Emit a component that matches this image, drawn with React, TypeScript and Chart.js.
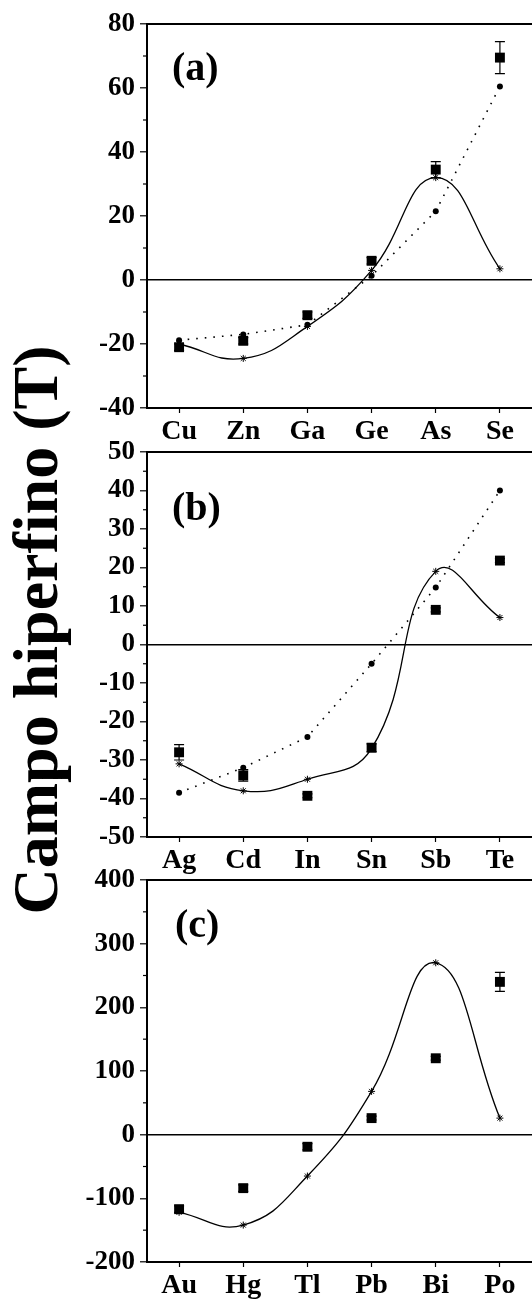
import React, { useEffect, useRef } from "react";
import { Chart, registerables } from "chart.js";

Chart.register(...registerables);

// ---------- data ----------
const categoriesA = ["Cu", "Zn", "Ga", "Ge", "As", "Se"];
const squaresA = [-21, -19, -11, 6, 34.5, 69.5];
const squareErrA = [1, 1, 1, 1, 2.5, 5];
const circlesA = [-18.8, -17, -14, 1.3, 21.5, 60.5];
const starsA = [-20, -24.5, -14.5, 3, 32, 3.5];

const categoriesB = ["Ag", "Cd", "In", "Sn", "Sb", "Te"];
const squaresB = [-28, -34, -39.3, -26.8, 9, 21.8];
const squareErrB = [2, 1.5, 0.5, 1, 0.5, 0.5];
const circlesB = [-38.5, -32, -24, -5, 14.8, 40];
const starsB = [-31, -38, -35, -27, 19, 7];

const categoriesC = ["Au", "Hg", "Tl", "Pb", "Bi", "Po"];
const squaresC = [-117, -84, -19, 26, 120, 240];
const squareErrC = [5, 5, 5, 3, 3, 15];
const starsC = [-122, -142, -65, 68, 270, 26];

const FONT = "'Liberation Serif', 'Times New Roman', serif";

const decor = {
  id: "decor",
  beforeDatasetsDraw(chart: any, _args: any, opts: any) {
    const ctx = chart.ctx;
    const y = chart.scales.y;
    const meta = chart.getDatasetMeta(0);
    const vals = chart.data.datasets[0].data as number[];
    const errs: number[] = opts.errors || [];
    ctx.save();
    ctx.strokeStyle = "#000";
    ctx.lineWidth = 1.2;
    meta.data.forEach((pt: any, i: number) => {
      const e = errs[i];
      if (!e) return;
      const y1 = y.getPixelForValue(vals[i] + e);
      const y2 = y.getPixelForValue(vals[i] - e);
      ctx.beginPath();
      ctx.moveTo(pt.x, y1);
      ctx.lineTo(pt.x, y2);
      ctx.moveTo(pt.x - 5, y1);
      ctx.lineTo(pt.x + 5, y1);
      ctx.moveTo(pt.x - 5, y2);
      ctx.lineTo(pt.x + 5, y2);
      ctx.stroke();
    });
    ctx.restore();
  },
  afterDraw(chart: any, _args: any, opts: any) {
    const ctx = chart.ctx;
    const area = chart.chartArea;
    const y = chart.scales.y;
    ctx.save();
    ctx.strokeStyle = "#000";
    ctx.lineWidth = 2;
    ctx.beginPath();
    ctx.moveTo(area.left, area.top);
    ctx.lineTo(chart.width, area.top);
    ctx.stroke();
    // minor ticks
    ctx.lineWidth = 1.2;
    const step = opts.minorStep;
    for (let v = y.min + step; v < y.max; v += 2 * step) {
      const py = y.getPixelForValue(v);
      ctx.beginPath();
      ctx.moveTo(area.left - 4, py);
      ctx.lineTo(area.left, py);
      ctx.stroke();
    }
    // panel label
    ctx.fillStyle = "#000";
    ctx.font = `bold 40px ${FONT}`;
    ctx.textBaseline = "alphabetic";
    ctx.textAlign = "left";
    ctx.fillText(opts.label, opts.labelX, opts.labelY);
    ctx.restore();
  },
};

type PanelProps = {
  categories: string[];
  squares: number[];
  errors: number[];
  circles?: number[];
  stars: number[];
  yMin: number;
  yMax: number;
  yStep: number;
  top: number;
  height: number;
  padTop: number;
  xHeight: number;
  label: string;
  labelX: number;
  labelY: number;
};

function Panel(p: PanelProps) {
  const ref = useRef<HTMLCanvasElement | null>(null);
  useEffect(() => {
    if (!ref.current) return;
    const datasets: any[] = [
      {
        data: p.squares,
        showLine: false,
        pointStyle: "rect",
        pointRadius: 7,
        pointBackgroundColor: "#000",
        pointBorderColor: "#000",
        pointBorderWidth: 0,
      },
      {
        data: p.stars,
        borderColor: "#000",
        borderWidth: 1.3,
        tension: 0.45,
        pointStyle: "star",
        pointRadius: 3.5,
        pointBorderColor: "#000",
        pointBorderWidth: 1,
        pointBackgroundColor: "#000",
      },
    ];
    if (p.circles) {
      datasets.push({
        data: p.circles,
        borderColor: "#000",
        borderWidth: 1.6,
        borderDash: [1.6, 7],
        tension: 0,
        pointStyle: "circle",
        pointRadius: 3,
        pointBackgroundColor: "#000",
        pointBorderColor: "#000",
        pointBorderWidth: 0,
      });
    }
    const chart = new Chart(ref.current, {
      type: "line",
      data: { labels: p.categories, datasets },
      plugins: [decor as any],
      options: {
        animation: false,
        responsive: false,
        devicePixelRatio: 1,
        layout: {
          autoPadding: false,
          padding: { top: p.padTop, left: 0, right: 0, bottom: 0 },
        },
        plugins: {
          legend: { display: false },
          tooltip: { enabled: false },
          decor: {
            errors: p.errors,
            minorStep: p.yStep / 2,
            label: p.label,
            labelX: p.labelX,
            labelY: p.labelY,
          },
        } as any,
        scales: {
          x: {
            type: "category",
            offset: true,
            afterFit: (s: any) => {
              s.height = p.xHeight;
              s.paddingLeft = 0;
              s.paddingRight = 0;
            },
            border: { display: true, color: "#000", width: 2 },
            grid: {
              drawOnChartArea: false,
              color: "#000",
              tickColor: "#000",
              tickLength: 5,
              tickWidth: 1.2,
            },
            ticks: {
              color: "#000",
              font: { family: FONT, weight: "bold", size: 28 },
              padding: 2,
              maxRotation: 0,
              autoSkip: false,
            },
          },
          y: {
            type: "linear",
            min: p.yMin,
            max: p.yMax,
            afterFit: (s: any) => {
              s.width = 147;
            },
            border: { display: true, color: "#000", width: 2 },
            grid: {
              color: (c: any) => (c.tick && c.tick.value === 0 ? "#000" : "rgba(0,0,0,0)"),
              lineWidth: 1.6,
              tickColor: "#000",
              tickLength: 7,
              tickWidth: 1.2,
            },
            ticks: {
              stepSize: p.yStep,
              color: "#000",
              font: { family: FONT, weight: "bold", size: 27 },
              padding: 5,
            },
          },
        },
      },
    });
    return () => chart.destroy();
  }, []);
  return (
    <canvas
      ref={ref}
      width={532}
      height={p.height}
      style={{ position: "absolute", left: 0, top: p.top, width: 532, height: p.height }}
    />
  );
}

export default function App() {
  return (
    <div
      style={{
        position: "absolute",
        left: 0,
        top: 0,
        width: 532,
        height: 1302,
        overflow: "hidden",
        background: "#fff",
      }}
    >
      <Panel
        categories={categoriesA}
        squares={squaresA}
        errors={squareErrA}
        circles={circlesA}
        stars={starsA}
        yMin={-40}
        yMax={80}
        yStep={20}
        top={0}
        height={455}
        padTop={24}
        xHeight={47}
        label="(a)"
        labelX={172}
        labelY={80}
      />
      <Panel
        categories={categoriesB}
        squares={squaresB}
        errors={squareErrB}
        circles={circlesB}
        stars={starsB}
        yMin={-50}
        yMax={50}
        yStep={10}
        top={425}
        height={455}
        padTop={27}
        xHeight={43}
        label="(b)"
        labelX={172}
        labelY={95}
      />
      <Panel
        categories={categoriesC}
        squares={squaresC}
        errors={squareErrC}
        stars={starsC}
        yMin={-200}
        yMax={400}
        yStep={100}
        top={850}
        height={452}
        padTop={30}
        xHeight={40}
        label="(c)"
        labelX={175}
        labelY={87}
      />
      <div
        style={{
          position: "absolute",
          left: 36 - 400,
          top: 630 - 32,
          width: 800,
          height: 64,
          lineHeight: "64px",
          fontSize: 64,
          fontWeight: "bold",
          fontFamily: FONT,
          textAlign: "center",
          whiteSpace: "nowrap",
          color: "#000",
          transform: "rotate(-90deg)",
          transformOrigin: "center",
        }}
      >
        Campo hiperfino (T)
      </div>
    </div>
  );
}
